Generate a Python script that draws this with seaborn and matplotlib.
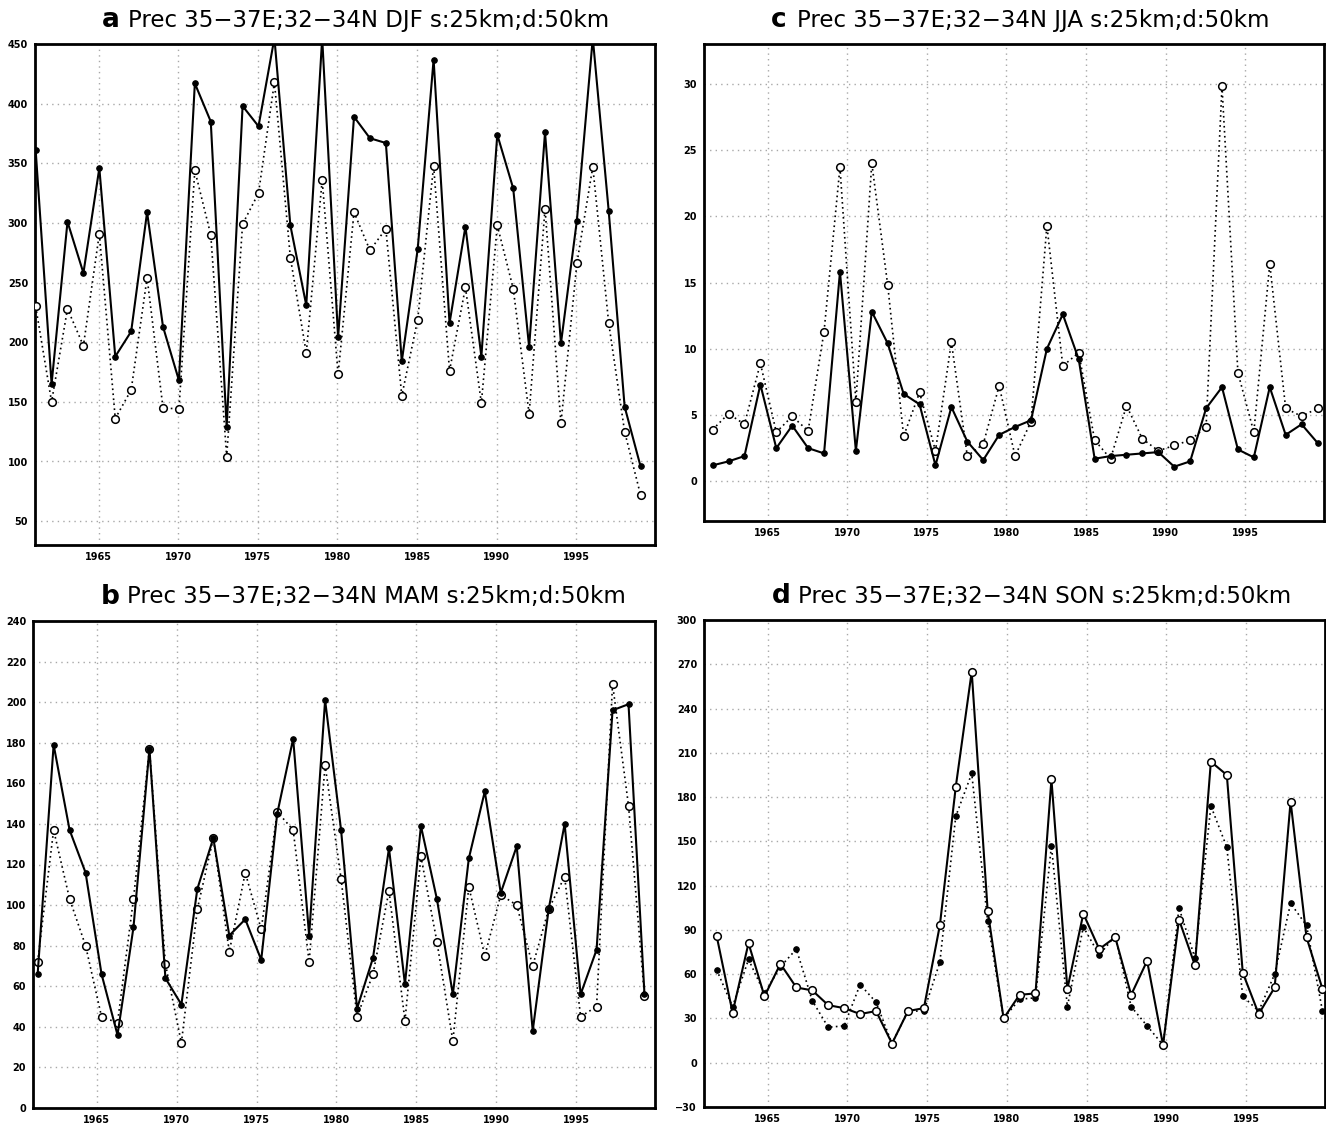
import numpy as np
import pandas as pd
import matplotlib
matplotlib.use("Agg")
import matplotlib.pyplot as plt
import seaborn as sns

# data (precip, 1961-1999)
years = list(range(1961, 2000))

# mid-season month of each season, gives the time coordinate
season_month = {"DJF": 1, "MAM": 4, "JJA": 7, "SON": 10}

djf_solid = [361, 165, 301, 258, 346, 188, 209, 309, 213, 168,
             417, 385, 129, 398, 381, 455, 298, 231, 455, 204,
             389, 371, 367, 184, 278, 437, 216, 297, 188, 374,
             329, 196, 376, 199, 302, 455, 310, 146, 96]
djf_dot = [230, 150, 228, 197, 291, 136, 160, 254, 145, 144,
           344, 290, 104, 299, 325, 418, 271, 191, 336, 173,
           309, 277, 295, 155, 219, 348, 176, 246, 149, 298,
           245, 140, 312, 132, 266, 347, 216, 125, 72]

mam_solid = [66, 179, 137, 116, 66, 36, 89, 177, 64, 51,
             108, 133, 85, 93, 73, 145, 182, 85, 201, 137,
             49, 74, 128, 61, 139, 103, 56, 123, 156, 106,
             129, 38, 98, 140, 56, 78, 196, 199, 56]
mam_dot = [72, 137, 103, 80, 45, 42, 103, 177, 71, 32,
           98, 133, 77, 116, 88, 146, 137, 72, 169, 113,
           45, 66, 107, 43, 124, 82, 33, 109, 75, 105,
           100, 70, 98, 114, 45, 50, 209, 149, 55]

jja_solid = [1.2, 1.5, 1.9, 7.3, 2.5, 4.2, 2.5, 2.1, 15.8, 2.3,
             12.8, 10.4, 6.6, 5.8, 1.2, 5.6, 3.0, 1.6, 3.5, 4.1,
             4.6, 10.0, 12.6, 9.2, 1.7, 1.9, 2.0, 2.1, 2.2, 1.1,
             1.5, 5.5, 7.1, 2.4, 1.8, 7.1, 3.5, 4.3, 2.9]
jja_dot = [3.9, 5.1, 4.3, 8.9, 3.7, 4.9, 3.8, 11.3, 23.7, 6.0,
           24.0, 14.8, 3.4, 6.7, 2.3, 10.5, 1.9, 2.8, 7.2, 1.9,
           4.5, 19.3, 8.7, 9.7, 3.1, 1.7, 5.7, 3.2, 2.3, 2.7,
           3.1, 4.1, 29.8, 8.2, 3.7, 16.4, 5.5, 4.9, 5.5]

son_solid = [86, 34, 81, 45, 67, 51, 49, 39, 37, 33,
             35, 13, 35, 37, 93, 187, 265, 103, 30, 46,
             47, 192, 50, 101, 77, 85, 46, 69, 12, 97,
             66, 204, 195, 61, 33, 51, 177, 85, 50]
son_dot = [63, 38, 70, 47, 65, 77, 42, 24, 25, 53,
           41, 13, 35, 35, 68, 167, 196, 96, 30, 43,
           44, 147, 38, 92, 73, 86, 38, 25, 12, 105,
           71, 174, 146, 45, 35, 60, 108, 93, 35]

panels = [
    # letter, season, solid, dotted, y range, y ticks, box in pixels (l, t, r, b)
    ("a", "DJF", djf_solid, djf_dot, (30, 450), range(50, 451, 50), (35, 44, 655, 545)),
    ("c", "JJA", jja_solid, jja_dot, (-3, 33), range(0, 31, 5), (704, 44, 1324, 521)),
    ("b", "MAM", mam_solid, mam_dot, (0, 240), range(0, 241, 20), (33, 621, 655, 1108)),
    ("d", "SON", son_solid, son_dot, (-30, 300), range(-30, 301, 30), (704, 620, 1325, 1107)),
]

W, H = 1326, 1138
sns.set_style("white")
plt.rcParams["font.family"] = ["DejaVu Sans"]
plt.rcParams["text.color"] = "black"
plt.rcParams["xtick.color"] = "black"
plt.rcParams["ytick.color"] = "black"
fig = plt.figure(figsize=(W / 100, H / 100), dpi=100)

for letter, season, solid, dotted, ylim, yticks, box in panels:
    l, t, r, b = box
    ax = fig.add_axes([l / W, 1 - b / H, (r - l) / W, (b - t) / H])
    t_axis = [y + (season_month[season] - 0.5) / 12 for y in years]
    df = pd.DataFrame({"time": t_axis, "solid": solid, "dotted": dotted})

    # SON panel has the marker styles swapped
    filled = dict(marker="o", markersize=4, markerfacecolor="black", markeredgecolor="black")
    hollow = dict(marker="o", markersize=5.5, markerfacecolor="white",
                  markeredgecolor="black", markeredgewidth=1.1)
    solid_mk, dot_mk = (hollow, filled) if season == "SON" else (filled, hollow)

    sns.lineplot(data=df, x="time", y="dotted", ax=ax, color="black",
                 linestyle=(0, (1, 2)), linewidth=1.2, zorder=3, **dot_mk)
    sns.lineplot(data=df, x="time", y="solid", ax=ax, color="black",
                 linestyle="-", linewidth=1.5, zorder=4, **solid_mk)

    ax.set_xlim(1961, 1999.95)
    ax.set_ylim(*ylim)
    ax.set_xticks(range(1965, 1996, 5))
    ax.set_yticks(list(yticks))
    ax.grid(True, color="#a8a8a8", linestyle=(0, (1, 3)), linewidth=1)
    ax.set_xlabel("")
    ax.set_ylabel("")
    ax.tick_params(axis="both", labelsize=7, length=3, width=1, pad=2, direction="out")
    for lab in ax.get_xticklabels() + ax.get_yticklabels():
        lab.set_fontweight("bold")
    for sp in ax.spines.values():
        sp.set_linewidth(2)
        sp.set_color("black")

    # panel title: bold letter then the label
    title = "Prec 35\u221237E;32\u221234N " + season + " s:25km;d:50km"
    cx = (l + r) / 2
    ty = t - 24
    fig.text((cx - 243) / W, 1 - ty / H, letter, fontsize=19, fontweight="bold",
             ha="left", va="center")
    fig.text((cx - 217) / W, 1 - ty / H, title, fontsize=16.5, ha="left", va="center")

fig.savefig("out.png", dpi=100)
